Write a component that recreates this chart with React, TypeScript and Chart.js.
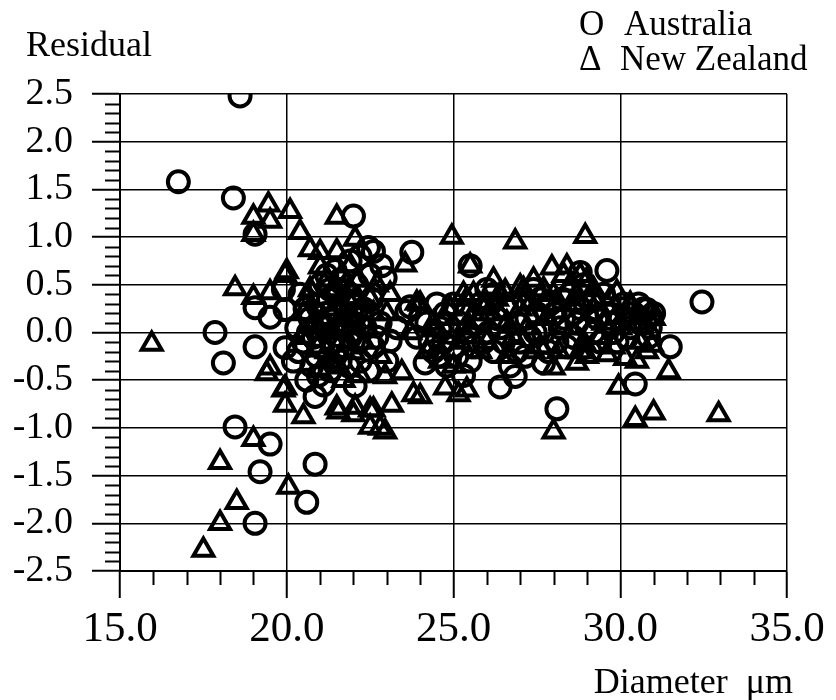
import React, { useEffect, useRef } from "react";
import { Chart, registerables } from "chart.js";

Chart.register(...registerables);

// ---- data ----
const australiaX = [
  18.6, 16.75, 18.4, 19.05, 22.0, 22.45, 22.85, 22.95, 23.75, 19.05, 19.5, 19.9, 19.95, 23.7, 17.85,
  19.05, 18.1, 19.95, 20.85, 22.05, 18.45, 19.5, 19.2, 20.85, 20.6, 19.05, 31.5, 30.45, 28.1, 27.7,
  26.4, 26.85, 27.15, 28.8, 29.6, 32.45, 25.5, 22.6, 23.1, 24.15, 23.6, 30.8, 30.9, 21.9,
  20.3, 20.5, 20.7, 20.9, 21.0, 21.2, 21.3, 21.5, 21.6, 21.7, 21.9, 22.0, 22.2, 22.3, 22.5, 20.6,
  21.1, 20.4, 22.2, 20.8, 21.4, 22.6, 22.8, 23.3, 23.0, 20.2, 21.2,
  23.9, 24.2, 24.4, 24.6, 24.8, 25.0, 25.2, 25.5, 25.7, 25.9, 26.1, 26.2, 26.4, 26.6, 26.7, 26.9,
  27.1, 27.3, 27.5, 27.7, 27.9, 28.1, 28.3, 28.5, 28.6, 28.8, 29.0, 29.2, 29.4, 29.6, 29.8, 30.0,
  30.2, 30.4, 30.6, 30.7, 30.9, 26.0, 27.4, 28.9, 25.3, 24.5,
  20.35, 20.55, 20.75, 20.95, 21.05, 21.25, 21.35, 21.45, 21.55, 21.65, 21.75, 21.85, 21.95, 22.1,
  22.15, 22.35, 22.45, 22.55, 22.7, 20.65, 21.15, 21.45, 20.95, 22.25, 21.8,
  24.0, 24.3, 24.55, 24.75, 24.9, 25.1, 25.35, 25.6, 25.8, 26.05, 26.3, 26.5, 26.75, 27.0, 27.2,
  27.45, 27.6, 27.85, 28.05, 28.25, 28.4, 28.7, 28.95, 29.1, 29.3, 29.5, 29.7, 29.9, 30.1, 30.3,
  30.55, 30.75, 31.0, 30.85,
  21.3, 21.6, 21.9, 22.1, 21.0, 25.0, 25.4, 26.2, 26.9, 27.7, 28.2, 28.6, 29.2, 24.7, 25.9,
];
const australiaY = [
  2.48, 1.58, 1.41, 1.03, 1.22, 0.89, 0.7, 0.57, 0.84, 0.26, 0.16, 0.45, 0.24, 0.27, 0.0,
  -0.15, -0.32, -0.16, -0.67, -0.56, -0.99, -1.17, -1.46, -1.38, -1.78, -2.0, -0.15, -0.54, -0.8, -0.32,
  -0.57, -0.46, -0.25, 0.63, 0.65, 0.32, 0.7, 0.85, -0.09, -0.32, 0.22, 0.24, 0.17, 0.75,
  0.05, -0.1, 0.15, -0.25, 0.3, 0.05, -0.4, 0.2, 0.55, -0.15, 0.4, 0.0, -0.3, 0.25, 0.6, -0.5,
  -0.55, 0.4, 0.8, -0.05, -0.1, -0.15, 0.1, 0.05, -0.3, -0.3, 0.6,
  -0.05, 0.1, -0.2, 0.05, -0.35, -0.15, 0.1, -0.3, 0.15, -0.1, 0.3, -0.2, 0.05, 0.25, -0.35, 0.1,
  0.35, -0.05, 0.2, 0.0, 0.3, -0.1, 0.15, 0.4, -0.05, 0.25, 0.05, 0.35, -0.1, 0.2, 0.0, 0.15,
  -0.05, 0.2, 0.1, 0.25, 0.05, 0.45, 0.45, 0.5, -0.45, 0.3,
  -0.2, 0.25, -0.35, 0.1, -0.15, 0.35, 0.15, -0.25, 0.45, 0.05, 0.3, -0.35, 0.2, 0.5,
  -0.1, 0.05, -0.4, 0.35, -0.05, 0.0, 0.2, 0.65, -0.45, 0.15, 0.1,
  0.15, -0.1, -0.25, 0.2, 0.0, -0.25, 0.2, -0.15, 0.3, 0.0, 0.15, -0.1, 0.3, -0.1, 0.15,
  0.0, 0.35, -0.2, 0.2, 0.35, -0.15, 0.1, 0.3, -0.2, 0.15, 0.4, 0.1, -0.1, 0.3, 0.05,
  0.3, 0.1, 0.2, -0.05,
  0.45, -0.3, -0.05, 0.3, 0.5, 0.3, 0.0, 0.4, -0.2, 0.25, 0.05, 0.2, 0.0, -0.1, 0.15,
];
const newZealandX = [
  15.95, 18.45, 19.0, 19.5, 19.95, 19.0, 19.45, 19.5, 20.1, 19.0, 20.4, 21.5, 20.7, 21.0, 21.5,
  22.05, 23.55, 19.5, 19.4, 19.95, 19.95, 20.5, 21.5, 22.05, 22.5, 22.5, 22.95, 22.95, 23.45, 23.15,
  23.8, 22.0, 21.55, 19.0, 18.0, 20.05, 18.5, 18.0, 17.5, 31.45, 29.95, 30.45, 31.0, 32.95, 28.0,
  29.0, 29.6, 30.15, 30.5, 28.0, 24.0, 25.15, 25.4, 24.95, 26.85, 28.95, 25.5, 27.95, 28.4, 29.9,
  23.9, 25.6, 27.0, 26.55, 30.95, 20.0, 21.0, 25.4, 24.45, 25.4, 24.75, 22.6, 22.8, 19.9, 21.55,
  22.0, 28.7,
  20.8, 21.2, 21.4, 21.6, 21.8, 22.0, 22.3, 21.0, 20.6, 22.5, 21.3, 21.7, 22.7, 23.0,
  24.2, 24.7, 25.0, 25.6, 26.0, 26.3, 26.6, 27.0, 27.2, 27.6, 28.0, 28.3, 28.6, 28.9, 29.2, 29.5,
  29.8, 30.3, 30.6, 31.0, 27.4, 28.8, 26.2,
  20.45, 20.7, 20.9, 21.1, 21.3, 21.5, 21.65, 21.85, 22.05, 22.2, 22.4, 22.6, 20.5, 21.2, 21.9,
  22.8, 23.1,
  23.7, 24.0, 24.4, 24.9, 25.2, 25.5, 25.8, 26.1, 26.4, 26.8, 27.1, 27.4, 27.8, 28.15, 28.5,
  28.8, 29.1, 29.4, 29.7, 30.0, 30.5, 30.8, 27.7, 28.3, 29.0,
  21.45, 21.75, 22.15, 21.0, 25.3, 26.6, 27.3, 28.1, 28.7, 29.3, 24.6, 26.0,
];
const newZealandY = [
  -0.12, 0.46, 0.37, 0.42, 0.6, 1.21, 1.34, 1.17, 1.27, 1.03, 1.05, 1.21, 0.87, 0.84, 0.85,
  0.98, 0.71, -0.37, -0.43, -0.58, -0.76, -0.88, -0.79, -0.78, -0.81, -0.99, -1.04, -0.46, -0.42, -0.76,
  -0.65, -0.21, -0.36, -1.12, -1.36, -1.62, -1.78, -2.0, -2.28, -0.41, -0.57, -0.91, -0.84, -0.86, -1.04,
  -0.25, -0.23, -0.27, -0.3, -0.37, -0.67, -0.65, -0.6, 1.0, 0.95, 1.01, 0.7, 0.68, 0.69, 0.42,
  0.31, 0.4, 0.48, 0.43, -0.13, 0.64, 0.69, 0.35, 0.03, -0.04, -0.58, -0.81, -1.0, -0.6, -0.83,
  -0.86, -0.32,
  0.1, -0.2, 0.45, 0.3, 0.5, 0.15, -0.1, -0.4, 0.35, 0.35, 0.0, -0.5, 0.5, 0.2,
  -0.2, 0.15, -0.35, 0.2, -0.1, 0.35, -0.25, 0.25, 0.05, -0.15, 0.4, 0.05, 0.3, -0.1, 0.45, 0.1,
  -0.15, 0.3, -0.1, 0.15, 0.55, 0.6, 0.55,
  -0.05, 0.45, -0.15, 0.15, -0.3, 0.05, 0.6, -0.1, 0.35, -0.45, 0.05, 0.2, 0.2, 0.55, 0.7,
  -0.25, 0.4,
  0.0, 0.3, 0.1, 0.25, -0.1, 0.05, -0.2, 0.2, 0.4, -0.05, 0.45, -0.2, 0.15, -0.2, 0.5,
  -0.2, 0.2, -0.05, 0.35, 0.05, 0.1, -0.2, 0.45, 0.6, 0.55,
  0.25, 0.15, 0.55, 0.0, 0.4, 0.1, 0.3, 0.3, 0.4, 0.3, -0.3, 0.3,
];

const xMin = 15, xMax = 35, xStep = 5, xMinorStep = 1;
const yMin = -2.5, yMax = 2.5, yStep = 0.5, yMinorStep = 0.1;

const yTitle = "Residual";
const xTitle = "Diameter  μm";
const seriesNames = ["Australia", "New Zealand"];
const legendSymbols = ["O", "Δ"];

const SERIF = '"Liberation Serif", "Times New Roman", serif';

function toPoints(xs: number[], ys: number[]) {
  return xs.map((x, i) => ({ x, y: ys[i] }));
}

const decorPlugin = {
  id: "decor",
  afterDraw(chart: any) {
    const ctx = chart.ctx as CanvasRenderingContext2D;
    const xs = chart.scales.x;
    const ys = chart.scales.y;
    const area = chart.chartArea;
    ctx.save();
    ctx.strokeStyle = "#000";
    ctx.lineWidth = 2;
    // minor ticks on y axis
    for (let k = 0; ; k++) {
      const v = yMin + k * yMinorStep;
      if (v > yMax + 1e-9) break;
      if (Math.abs(v / yStep - Math.round(v / yStep)) < 1e-6) continue;
      const py = Math.round(ys.getPixelForValue(v)) + 0.5;
      ctx.beginPath();
      ctx.moveTo(area.left - 15, py);
      ctx.lineTo(area.left, py);
      ctx.stroke();
    }
    // minor ticks on x axis
    for (let k = 0; ; k++) {
      const v = xMin + k * xMinorStep;
      if (v > xMax + 1e-9) break;
      if (Math.abs(v / xStep - Math.round(v / xStep)) < 1e-6) continue;
      const px = Math.round(xs.getPixelForValue(v)) + 0.5;
      ctx.beginPath();
      ctx.moveTo(px, area.bottom);
      ctx.lineTo(px, area.bottom + 14);
      ctx.stroke();
    }
    // texts
    ctx.fillStyle = "#000";
    ctx.textBaseline = "alphabetic";
    ctx.textAlign = "left";
    ctx.font = `36px ${SERIF}`;
    ctx.fillText(yTitle, 26, 56);
    ctx.font = `35px ${SERIF}`;
    ctx.fillText(legendSymbols[0], 579, 35);
    ctx.fillText(seriesNames[0], 624, 35);
    ctx.fillText(legendSymbols[1], 579, 70);
    ctx.fillText(seriesNames[1], 620, 70);
    ctx.font = `36px ${SERIF}`;
    ctx.textAlign = "right";
    ctx.fillText(xTitle, 793, 693);
    ctx.restore();
  },
};

export default function App() {
  const canvasRef = useRef<HTMLCanvasElement | null>(null);

  useEffect(() => {
    document.body.style.margin = "0";
    const canvas = canvasRef.current;
    if (!canvas) return;
    const chart = new Chart(canvas, {
      type: "scatter",
      data: {
        datasets: [
          {
            label: seriesNames[0],
            data: toPoints(australiaX, australiaY),
            pointStyle: "circle",
            pointRadius: 10.5,
            pointBorderWidth: 4,
            borderColor: "#000",
            backgroundColor: "rgba(0,0,0,0)",
          },
          {
            label: seriesNames[1],
            data: toPoints(newZealandX, newZealandY),
            pointStyle: "triangle",
            pointRadius: 11.5,
            pointBorderWidth: 4,
            borderColor: "#000",
            backgroundColor: "rgba(0,0,0,0)",
          },
        ],
      },
      options: {
        animation: false,
        responsive: false,
        devicePixelRatio: 1,
        layout: { padding: { top: 94, right: 49, left: 0, bottom: 0 } },
        plugins: {
          legend: { display: false },
          tooltip: { enabled: false },
          title: { display: false },
        },
        scales: {
          x: {
            type: "linear",
            position: "bottom",
            min: xMin,
            max: xMax,
            afterFit(scale: any) {
              scale.height = 129;
            },
            ticks: {
              stepSize: xStep,
              autoSkip: false,
              color: "#000",
              padding: 6,
              maxRotation: 0,
              font: { family: SERIF, size: 43 },
              callback: (v: any) => Number(v).toFixed(1),
            },
            grid: {
              color: "#000",
              lineWidth: 1.5,
              drawTicks: true,
              tickLength: 27,
              tickWidth: 2,
            },
            border: { display: true, color: "#000", width: 2 },
          },
          y: {
            type: "linear",
            position: "left",
            min: yMin,
            max: yMax,
            afterFit(scale: any) {
              scale.width = 120;
            },
            ticks: {
              stepSize: yStep,
              autoSkip: false,
              color: "#000",
              padding: 19,
              font: { family: SERIF, size: 38 },
              callback: (v: any) => Number(v).toFixed(1),
            },
            grid: {
              color: "#000",
              lineWidth: 1.5,
              drawTicks: true,
              tickLength: 28,
              tickWidth: 2,
            },
            border: { display: true, color: "#000", width: 2 },
          },
        },
      },
      plugins: [decorPlugin],
    });
    return () => chart.destroy();
  }, []);

  return (
    <div style={{ width: 836, height: 700, background: "#fff" }}>
      <canvas ref={canvasRef} width={836} height={700} style={{ width: 836, height: 700, display: "block" }} />
    </div>
  );
}
